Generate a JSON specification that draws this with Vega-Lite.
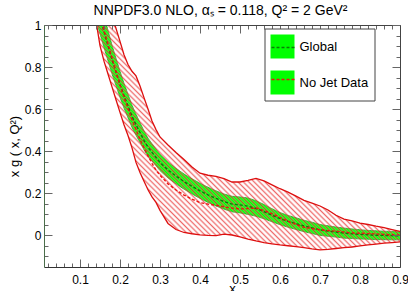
{
"$schema": "https://vega.github.io/schema/vega-lite/v6.json",
"width": 356, "height": 242,
"autosize": {"type": "none"},
"padding": {"left": 44, "top": 25, "right": 8, "bottom": 24},
"background": "white",
"config": {"view": {"stroke": null}, "font": "Liberation Sans"},
"data": {"values": [
{"s":"Global","x":0.14,"lo":1.025,"c":1.105,"hi":1.185},
{"s":"Global","x":0.15,"lo":0.959,"c":1.037,"hi":1.115},
{"s":"Global","x":0.16,"lo":0.893,"c":0.969,"hi":1.045},
{"s":"Global","x":0.17,"lo":0.83,"c":0.902,"hi":0.974},
{"s":"Global","x":0.18,"lo":0.768,"c":0.836,"hi":0.904},
{"s":"Global","x":0.19,"lo":0.712,"c":0.777,"hi":0.842},
{"s":"Global","x":0.2,"lo":0.656,"c":0.718,"hi":0.78},
{"s":"Global","x":0.21,"lo":0.605,"c":0.664,"hi":0.723},
{"s":"Global","x":0.22,"lo":0.559,"c":0.615,"hi":0.671},
{"s":"Global","x":0.23,"lo":0.513,"c":0.566,"hi":0.619},
{"s":"Global","x":0.24,"lo":0.476,"c":0.526,"hi":0.576},
{"s":"Global","x":0.25,"lo":0.442,"c":0.489,"hi":0.536},
{"s":"Global","x":0.26,"lo":0.407,"c":0.452,"hi":0.497},
{"s":"Global","x":0.27,"lo":0.376,"c":0.419,"hi":0.462},
{"s":"Global","x":0.28,"lo":0.354,"c":0.395,"hi":0.436},
{"s":"Global","x":0.29,"lo":0.331,"c":0.371,"hi":0.411},
{"s":"Global","x":0.3,"lo":0.308,"c":0.347,"hi":0.386},
{"s":"Global","x":0.32,"lo":0.273,"c":0.311,"hi":0.349},
{"s":"Global","x":0.34,"lo":0.245,"c":0.282,"hi":0.319},
{"s":"Global","x":0.36,"lo":0.22,"c":0.256,"hi":0.292},
{"s":"Global","x":0.38,"lo":0.197,"c":0.233,"hi":0.269},
{"s":"Global","x":0.4,"lo":0.176,"c":0.212,"hi":0.248},
{"s":"Global","x":0.42,"lo":0.157,"c":0.193,"hi":0.229},
{"s":"Global","x":0.44,"lo":0.14,"c":0.176,"hi":0.212},
{"s":"Global","x":0.46,"lo":0.125,"c":0.161,"hi":0.197},
{"s":"Global","x":0.48,"lo":0.112,"c":0.149,"hi":0.186},
{"s":"Global","x":0.5,"lo":0.107,"c":0.145,"hi":0.183},
{"s":"Global","x":0.52,"lo":0.1,"c":0.139,"hi":0.178},
{"s":"Global","x":0.54,"lo":0.091,"c":0.128,"hi":0.165},
{"s":"Global","x":0.56,"lo":0.079,"c":0.113,"hi":0.147},
{"s":"Global","x":0.58,"lo":0.065,"c":0.096,"hi":0.127},
{"s":"Global","x":0.6,"lo":0.051,"c":0.08,"hi":0.109},
{"s":"Global","x":0.62,"lo":0.039,"c":0.067,"hi":0.095},
{"s":"Global","x":0.64,"lo":0.028,"c":0.056,"hi":0.084},
{"s":"Global","x":0.66,"lo":0.018,"c":0.045,"hi":0.072},
{"s":"Global","x":0.68,"lo":0.009,"c":0.036,"hi":0.063},
{"s":"Global","x":0.7,"lo":0.0,"c":0.026,"hi":0.052},
{"s":"Global","x":0.72,"lo":-0.004,"c":0.021,"hi":0.046},
{"s":"Global","x":0.74,"lo":-0.008,"c":0.016,"hi":0.04},
{"s":"Global","x":0.76,"lo":-0.013,"c":0.011,"hi":0.035},
{"s":"Global","x":0.78,"lo":-0.015,"c":0.008,"hi":0.031},
{"s":"Global","x":0.8,"lo":-0.017,"c":0.005,"hi":0.027},
{"s":"Global","x":0.82,"lo":-0.018,"c":0.003,"hi":0.024},
{"s":"Global","x":0.84,"lo":-0.02,"c":0.001,"hi":0.022},
{"s":"Global","x":0.86,"lo":-0.02,"c":0.0,"hi":0.02},
{"s":"Global","x":0.88,"lo":-0.021,"c":-0.001,"hi":0.019},
{"s":"Global","x":0.9,"lo":-0.021,"c":-0.002,"hi":0.017},
{"s":"No Jet Data","x":0.14,"lo":1.02,"c":1.105,"hi":1.2},
{"s":"No Jet Data","x":0.15,"lo":0.902,"c":1.04,"hi":1.2},
{"s":"No Jet Data","x":0.16,"lo":0.828,"c":0.974,"hi":1.17},
{"s":"No Jet Data","x":0.17,"lo":0.767,"c":0.908,"hi":1.11},
{"s":"No Jet Data","x":0.18,"lo":0.706,"c":0.843,"hi":1.047},
{"s":"No Jet Data","x":0.19,"lo":0.645,"c":0.779,"hi":0.984},
{"s":"No Jet Data","x":0.2,"lo":0.585,"c":0.714,"hi":0.922},
{"s":"No Jet Data","x":0.21,"lo":0.526,"c":0.656,"hi":0.859},
{"s":"No Jet Data","x":0.22,"lo":0.475,"c":0.603,"hi":0.812},
{"s":"No Jet Data","x":0.23,"lo":0.416,"c":0.55,"hi":0.78},
{"s":"No Jet Data","x":0.24,"lo":0.347,"c":0.503,"hi":0.758},
{"s":"No Jet Data","x":0.25,"lo":0.299,"c":0.455,"hi":0.71},
{"s":"No Jet Data","x":0.26,"lo":0.257,"c":0.417,"hi":0.655},
{"s":"No Jet Data","x":0.27,"lo":0.217,"c":0.379,"hi":0.601},
{"s":"No Jet Data","x":0.28,"lo":0.183,"c":0.343,"hi":0.544},
{"s":"No Jet Data","x":0.29,"lo":0.157,"c":0.31,"hi":0.503},
{"s":"No Jet Data","x":0.3,"lo":0.119,"c":0.286,"hi":0.468},
{"s":"No Jet Data","x":0.32,"lo":0.057,"c":0.245,"hi":0.43},
{"s":"No Jet Data","x":0.34,"lo":0.028,"c":0.216,"hi":0.394},
{"s":"No Jet Data","x":0.36,"lo":0.014,"c":0.192,"hi":0.361},
{"s":"No Jet Data","x":0.38,"lo":0.008,"c":0.172,"hi":0.325},
{"s":"No Jet Data","x":0.4,"lo":0.003,"c":0.156,"hi":0.296},
{"s":"No Jet Data","x":0.42,"lo":0.0,"c":0.149,"hi":0.286},
{"s":"No Jet Data","x":0.44,"lo":-0.001,"c":0.143,"hi":0.281},
{"s":"No Jet Data","x":0.46,"lo":0.006,"c":0.136,"hi":0.27},
{"s":"No Jet Data","x":0.48,"lo":0.002,"c":0.13,"hi":0.254},
{"s":"No Jet Data","x":0.5,"lo":-0.007,"c":0.126,"hi":0.254},
{"s":"No Jet Data","x":0.52,"lo":-0.017,"c":0.128,"hi":0.262},
{"s":"No Jet Data","x":0.54,"lo":-0.026,"c":0.13,"hi":0.271},
{"s":"No Jet Data","x":0.56,"lo":-0.034,"c":0.118,"hi":0.259},
{"s":"No Jet Data","x":0.58,"lo":-0.04,"c":0.103,"hi":0.24},
{"s":"No Jet Data","x":0.6,"lo":-0.045,"c":0.085,"hi":0.222},
{"s":"No Jet Data","x":0.62,"lo":-0.049,"c":0.068,"hi":0.206},
{"s":"No Jet Data","x":0.64,"lo":-0.053,"c":0.052,"hi":0.187},
{"s":"No Jet Data","x":0.66,"lo":-0.058,"c":0.039,"hi":0.167},
{"s":"No Jet Data","x":0.68,"lo":-0.064,"c":0.033,"hi":0.154},
{"s":"No Jet Data","x":0.7,"lo":-0.069,"c":0.027,"hi":0.14},
{"s":"No Jet Data","x":0.72,"lo":-0.066,"c":0.023,"hi":0.121},
{"s":"No Jet Data","x":0.74,"lo":-0.062,"c":0.02,"hi":0.096},
{"s":"No Jet Data","x":0.76,"lo":-0.058,"c":0.016,"hi":0.078},
{"s":"No Jet Data","x":0.78,"lo":-0.055,"c":0.012,"hi":0.069},
{"s":"No Jet Data","x":0.8,"lo":-0.05,"c":0.0105,"hi":0.059},
{"s":"No Jet Data","x":0.82,"lo":-0.045,"c":0.0087,"hi":0.052},
{"s":"No Jet Data","x":0.84,"lo":-0.041,"c":0.0069,"hi":0.044},
{"s":"No Jet Data","x":0.86,"lo":-0.037,"c":0.0051,"hi":0.037},
{"s":"No Jet Data","x":0.88,"lo":-0.034,"c":0.0033,"hi":0.028},
{"s":"No Jet Data","x":0.9,"lo":-0.031,"c":0.0016,"hi":0.019}
]},
"resolve": {"axis": {"x": "independent", "y": "independent"}},
"layer": [
{
 "transform": [{"filter": "datum.s === 'Global'"}],
 "mark": {"type": "area", "clip": true, "fill": "#00ff00"},
 "encoding": {
  "x": {"field": "x", "type": "quantitative", "scale": {"domain": [0.01, 0.9], "nice": false, "zero": false},
   "axis": {"orient": "bottom", "values": [0.02,0.04,0.06,0.08,0.1,0.12,0.14,0.16,0.18,0.2,0.22,0.24,0.26,0.28,0.3,0.32,0.34,0.36,0.38,0.4,0.42,0.44,0.46,0.48,0.5,0.52,0.54,0.56,0.58,0.6,0.62,0.64,0.66,0.68,0.7,0.72,0.74,0.76,0.78,0.8,0.82,0.84,0.86,0.88,0.9],
    "format": ".1f",
    "labelExpr": "abs(datum.value*10 - round(datum.value*10)) < 0.001 ? datum.label : ''",
    "tickSize": {"condition": {"test": "abs(datum.value*10 - round(datum.value*10)) < 0.001", "value": -8}, "value": -4},
    "tickColor": "#666", "tickWidth": 1, "domainColor": "#333", "domainWidth": 1,
    "labelPadding": 15, "labelFont": "Liberation Sans", "labelFontSize": 12, "labelColor": "#000", "labelFlush": false, "labelOverlap": false,
    "grid": false, "title": "x", "titleFont": "Liberation Sans", "titleFontSize": 13, "titleFontWeight": "normal", "titleColor": "#000", "titleX": 188, "titleY": 25, "titleBaseline": "alphabetic", "zindex": 1}},
  "y": {"field": "lo", "type": "quantitative", "scale": {"domain": [-0.15, 1], "nice": false, "zero": false},
   "axis": {"orient": "left", "values": [-0.1,-0.05,0,0.05,0.1,0.15,0.2,0.25,0.3,0.35,0.4,0.45,0.5,0.55,0.6,0.65,0.7,0.75,0.8,0.85,0.9,0.95,1],
    "format": "~g",
    "labelExpr": "abs(datum.value*5 - round(datum.value*5)) < 0.001 ? datum.label : ''",
    "tickSize": {"condition": {"test": "abs(datum.value*5 - round(datum.value*5)) < 0.001", "value": -8}, "value": -4},
    "tickColor": "#666", "tickWidth": 1, "domainColor": "#4b6e4b", "domainWidth": 1,
    "labelPadding": 11, "labelFont": "Liberation Sans", "labelFontSize": 12, "labelColor": "#000", "labelFlush": false, "labelOverlap": false,
    "grid": false, "title": "x g ( x, Q²)", "titleFont": "Liberation Sans", "titleFontSize": 13, "titleFontWeight": "normal", "titleColor": "#000", "titleX": -26, "titleAngle": -90, "titleBaseline": "alphabetic", "zindex": 1}},
  "y2": {"field": "hi"},
  "opacity": {"field": "s", "type": "nominal", "scale": {"domain": ["Global", "No Jet Data"], "range": [1, 1]},
   "legend": {"orient": "none", "legendX": 220.5, "legendY": 3.5, "padding": 6, "rowPadding": 12, "title": null,
    "symbolType": "square", "symbolSize": 576, "symbolStrokeWidth": 0,
    "labelFont": "Liberation Sans", "labelFontSize": 13, "labelColor": "#000", "labelOffset": 5,
    "strokeColor": "#444", "fillColor": "#ffffff", "zindex": 1}}
 }
},
{
 "transform": [{"filter": "datum.s === 'Global'"}],
 "mark": {"type": "line", "clip": true, "color": "#14a014", "strokeWidth": 0.8},
 "encoding": {
  "x": {"field": "x", "type": "quantitative", "scale": {"domain": [0.01, 0.9], "nice": false, "zero": false},
   "axis": {"orient": "top", "values": [0.02,0.04,0.06,0.08,0.1,0.12,0.14,0.16,0.18,0.2,0.22,0.24,0.26,0.28,0.3,0.32,0.34,0.36,0.38,0.4,0.42,0.44,0.46,0.48,0.5,0.52,0.54,0.56,0.58,0.6,0.62,0.64,0.66,0.68,0.7,0.72,0.74,0.76,0.78,0.8,0.82,0.84,0.86,0.88,0.9],
    "labels": false, "tickSize": {"condition": {"test": "abs(datum.value*10 - round(datum.value*10)) < 0.001", "value": -8}, "value": -4},
    "tickColor": "#666", "tickWidth": 1, "domainColor": "#444", "domainWidth": 1, "grid": false,
    "title": "NNPDF3.0 NLO, αₛ = 0.118, Q² = 2 GeV²", "titleFont": "Liberation Sans", "titleFontSize": 14, "titleFontWeight": "normal", "titleColor": "#000",
    "titleX": 176, "titleY": -11, "titleAlign": "center", "titleBaseline": "alphabetic", "titleAngle": 0, "zindex": 1}},
  "y": {"field": "lo", "type": "quantitative", "scale": {"domain": [-0.15, 1], "nice": false, "zero": false},
   "axis": {"orient": "right", "values": [-0.1,-0.05,0,0.05,0.1,0.15,0.2,0.25,0.3,0.35,0.4,0.45,0.5,0.55,0.6,0.65,0.7,0.75,0.8,0.85,0.9,0.95,1],
    "labels": false, "tickSize": {"condition": {"test": "abs(datum.value*5 - round(datum.value*5)) < 0.001", "value": -8}, "value": -4},
    "tickColor": "#666", "tickWidth": 1, "domainColor": "#444", "domainWidth": 1, "grid": false, "title": null, "zindex": 1}}
 }
},
{
 "transform": [{"filter": "datum.s === 'Global'"}],
 "mark": {"type": "line", "clip": true, "color": "#14a014", "strokeWidth": 0.8},
 "encoding": {
  "x": {"field": "x", "type": "quantitative", "axis": null},
  "y": {"field": "hi", "type": "quantitative", "axis": null}
 }
},
{
 "transform": [{"filter": "datum.s === 'No Jet Data'"}],
 "mark": {"type": "area", "clip": true, "fill": {"gradient": "linear", "x1": 0, "y1": 0.88, "x2": 1, "y2": 0, "stops": [
{"offset":0,"color":"rgba(230,40,40,0.7)"},{"offset":0.005,"color":"rgba(255,255,255,0)"},{"offset":0.01,"color":"rgba(230,40,40,0.7)"},{"offset":0.015,"color":"rgba(255,255,255,0)"},{"offset":0.02,"color":"rgba(230,40,40,0.7)"},{"offset":0.025,"color":"rgba(255,255,255,0)"},{"offset":0.03,"color":"rgba(230,40,40,0.7)"},{"offset":0.035,"color":"rgba(255,255,255,0)"},{"offset":0.04,"color":"rgba(230,40,40,0.7)"},{"offset":0.045,"color":"rgba(255,255,255,0)"},
{"offset":0.05,"color":"rgba(230,40,40,0.7)"},{"offset":0.055,"color":"rgba(255,255,255,0)"},{"offset":0.06,"color":"rgba(230,40,40,0.7)"},{"offset":0.065,"color":"rgba(255,255,255,0)"},{"offset":0.07,"color":"rgba(230,40,40,0.7)"},{"offset":0.075,"color":"rgba(255,255,255,0)"},{"offset":0.08,"color":"rgba(230,40,40,0.7)"},{"offset":0.085,"color":"rgba(255,255,255,0)"},{"offset":0.09,"color":"rgba(230,40,40,0.7)"},{"offset":0.095,"color":"rgba(255,255,255,0)"},
{"offset":0.1,"color":"rgba(230,40,40,0.7)"},{"offset":0.105,"color":"rgba(255,255,255,0)"},{"offset":0.11,"color":"rgba(230,40,40,0.7)"},{"offset":0.115,"color":"rgba(255,255,255,0)"},{"offset":0.12,"color":"rgba(230,40,40,0.7)"},{"offset":0.125,"color":"rgba(255,255,255,0)"},{"offset":0.13,"color":"rgba(230,40,40,0.7)"},{"offset":0.135,"color":"rgba(255,255,255,0)"},{"offset":0.14,"color":"rgba(230,40,40,0.7)"},{"offset":0.145,"color":"rgba(255,255,255,0)"},
{"offset":0.15,"color":"rgba(230,40,40,0.7)"},{"offset":0.155,"color":"rgba(255,255,255,0)"},{"offset":0.16,"color":"rgba(230,40,40,0.7)"},{"offset":0.165,"color":"rgba(255,255,255,0)"},{"offset":0.17,"color":"rgba(230,40,40,0.7)"},{"offset":0.175,"color":"rgba(255,255,255,0)"},{"offset":0.18,"color":"rgba(230,40,40,0.7)"},{"offset":0.185,"color":"rgba(255,255,255,0)"},{"offset":0.19,"color":"rgba(230,40,40,0.7)"},{"offset":0.195,"color":"rgba(255,255,255,0)"},
{"offset":0.2,"color":"rgba(230,40,40,0.7)"},{"offset":0.205,"color":"rgba(255,255,255,0)"},{"offset":0.21,"color":"rgba(230,40,40,0.7)"},{"offset":0.215,"color":"rgba(255,255,255,0)"},{"offset":0.22,"color":"rgba(230,40,40,0.7)"},{"offset":0.225,"color":"rgba(255,255,255,0)"},{"offset":0.23,"color":"rgba(230,40,40,0.7)"},{"offset":0.235,"color":"rgba(255,255,255,0)"},{"offset":0.24,"color":"rgba(230,40,40,0.7)"},{"offset":0.245,"color":"rgba(255,255,255,0)"},
{"offset":0.25,"color":"rgba(230,40,40,0.7)"},{"offset":0.255,"color":"rgba(255,255,255,0)"},{"offset":0.26,"color":"rgba(230,40,40,0.7)"},{"offset":0.265,"color":"rgba(255,255,255,0)"},{"offset":0.27,"color":"rgba(230,40,40,0.7)"},{"offset":0.275,"color":"rgba(255,255,255,0)"},{"offset":0.28,"color":"rgba(230,40,40,0.7)"},{"offset":0.285,"color":"rgba(255,255,255,0)"},{"offset":0.29,"color":"rgba(230,40,40,0.7)"},{"offset":0.295,"color":"rgba(255,255,255,0)"},
{"offset":0.3,"color":"rgba(230,40,40,0.7)"},{"offset":0.305,"color":"rgba(255,255,255,0)"},{"offset":0.31,"color":"rgba(230,40,40,0.7)"},{"offset":0.315,"color":"rgba(255,255,255,0)"},{"offset":0.32,"color":"rgba(230,40,40,0.7)"},{"offset":0.325,"color":"rgba(255,255,255,0)"},{"offset":0.33,"color":"rgba(230,40,40,0.7)"},{"offset":0.335,"color":"rgba(255,255,255,0)"},{"offset":0.34,"color":"rgba(230,40,40,0.7)"},{"offset":0.345,"color":"rgba(255,255,255,0)"},
{"offset":0.35,"color":"rgba(230,40,40,0.7)"},{"offset":0.355,"color":"rgba(255,255,255,0)"},{"offset":0.36,"color":"rgba(230,40,40,0.7)"},{"offset":0.365,"color":"rgba(255,255,255,0)"},{"offset":0.37,"color":"rgba(230,40,40,0.7)"},{"offset":0.375,"color":"rgba(255,255,255,0)"},{"offset":0.38,"color":"rgba(230,40,40,0.7)"},{"offset":0.385,"color":"rgba(255,255,255,0)"},{"offset":0.39,"color":"rgba(230,40,40,0.7)"},{"offset":0.395,"color":"rgba(255,255,255,0)"},
{"offset":0.4,"color":"rgba(230,40,40,0.7)"},{"offset":0.405,"color":"rgba(255,255,255,0)"},{"offset":0.41,"color":"rgba(230,40,40,0.7)"},{"offset":0.415,"color":"rgba(255,255,255,0)"},{"offset":0.42,"color":"rgba(230,40,40,0.7)"},{"offset":0.425,"color":"rgba(255,255,255,0)"},{"offset":0.43,"color":"rgba(230,40,40,0.7)"},{"offset":0.435,"color":"rgba(255,255,255,0)"},{"offset":0.44,"color":"rgba(230,40,40,0.7)"},{"offset":0.445,"color":"rgba(255,255,255,0)"},
{"offset":0.45,"color":"rgba(230,40,40,0.7)"},{"offset":0.455,"color":"rgba(255,255,255,0)"},{"offset":0.46,"color":"rgba(230,40,40,0.7)"},{"offset":0.465,"color":"rgba(255,255,255,0)"},{"offset":0.47,"color":"rgba(230,40,40,0.7)"},{"offset":0.475,"color":"rgba(255,255,255,0)"},{"offset":0.48,"color":"rgba(230,40,40,0.7)"},{"offset":0.485,"color":"rgba(255,255,255,0)"},{"offset":0.49,"color":"rgba(230,40,40,0.7)"},{"offset":0.495,"color":"rgba(255,255,255,0)"},
{"offset":0.5,"color":"rgba(230,40,40,0.7)"},{"offset":0.505,"color":"rgba(255,255,255,0)"},{"offset":0.51,"color":"rgba(230,40,40,0.7)"},{"offset":0.515,"color":"rgba(255,255,255,0)"},{"offset":0.52,"color":"rgba(230,40,40,0.7)"},{"offset":0.525,"color":"rgba(255,255,255,0)"},{"offset":0.53,"color":"rgba(230,40,40,0.7)"},{"offset":0.535,"color":"rgba(255,255,255,0)"},{"offset":0.54,"color":"rgba(230,40,40,0.7)"},{"offset":0.545,"color":"rgba(255,255,255,0)"},
{"offset":0.55,"color":"rgba(230,40,40,0.7)"},{"offset":0.555,"color":"rgba(255,255,255,0)"},{"offset":0.56,"color":"rgba(230,40,40,0.7)"},{"offset":0.565,"color":"rgba(255,255,255,0)"},{"offset":0.57,"color":"rgba(230,40,40,0.7)"},{"offset":0.575,"color":"rgba(255,255,255,0)"},{"offset":0.58,"color":"rgba(230,40,40,0.7)"},{"offset":0.585,"color":"rgba(255,255,255,0)"},{"offset":0.59,"color":"rgba(230,40,40,0.7)"},{"offset":0.595,"color":"rgba(255,255,255,0)"},
{"offset":0.6,"color":"rgba(230,40,40,0.7)"},{"offset":0.605,"color":"rgba(255,255,255,0)"},{"offset":0.61,"color":"rgba(230,40,40,0.7)"},{"offset":0.615,"color":"rgba(255,255,255,0)"},{"offset":0.62,"color":"rgba(230,40,40,0.7)"},{"offset":0.625,"color":"rgba(255,255,255,0)"},{"offset":0.63,"color":"rgba(230,40,40,0.7)"},{"offset":0.635,"color":"rgba(255,255,255,0)"},{"offset":0.64,"color":"rgba(230,40,40,0.7)"},{"offset":0.645,"color":"rgba(255,255,255,0)"},
{"offset":0.65,"color":"rgba(230,40,40,0.7)"},{"offset":0.655,"color":"rgba(255,255,255,0)"},{"offset":0.66,"color":"rgba(230,40,40,0.7)"},{"offset":0.665,"color":"rgba(255,255,255,0)"},{"offset":0.67,"color":"rgba(230,40,40,0.7)"},{"offset":0.675,"color":"rgba(255,255,255,0)"},{"offset":0.68,"color":"rgba(230,40,40,0.7)"},{"offset":0.685,"color":"rgba(255,255,255,0)"},{"offset":0.69,"color":"rgba(230,40,40,0.7)"},{"offset":0.695,"color":"rgba(255,255,255,0)"},
{"offset":0.7,"color":"rgba(230,40,40,0.7)"},{"offset":0.705,"color":"rgba(255,255,255,0)"},{"offset":0.71,"color":"rgba(230,40,40,0.7)"},{"offset":0.715,"color":"rgba(255,255,255,0)"},{"offset":0.72,"color":"rgba(230,40,40,0.7)"},{"offset":0.725,"color":"rgba(255,255,255,0)"},{"offset":0.73,"color":"rgba(230,40,40,0.7)"},{"offset":0.735,"color":"rgba(255,255,255,0)"},{"offset":0.74,"color":"rgba(230,40,40,0.7)"},{"offset":0.745,"color":"rgba(255,255,255,0)"},
{"offset":0.75,"color":"rgba(230,40,40,0.7)"},{"offset":0.755,"color":"rgba(255,255,255,0)"},{"offset":0.76,"color":"rgba(230,40,40,0.7)"},{"offset":0.765,"color":"rgba(255,255,255,0)"},{"offset":0.77,"color":"rgba(230,40,40,0.7)"},{"offset":0.775,"color":"rgba(255,255,255,0)"},{"offset":0.78,"color":"rgba(230,40,40,0.7)"},{"offset":0.785,"color":"rgba(255,255,255,0)"},{"offset":0.79,"color":"rgba(230,40,40,0.7)"},{"offset":0.795,"color":"rgba(255,255,255,0)"},
{"offset":0.8,"color":"rgba(230,40,40,0.7)"},{"offset":0.805,"color":"rgba(255,255,255,0)"},{"offset":0.81,"color":"rgba(230,40,40,0.7)"},{"offset":0.815,"color":"rgba(255,255,255,0)"},{"offset":0.82,"color":"rgba(230,40,40,0.7)"},{"offset":0.825,"color":"rgba(255,255,255,0)"},{"offset":0.83,"color":"rgba(230,40,40,0.7)"},{"offset":0.835,"color":"rgba(255,255,255,0)"},{"offset":0.84,"color":"rgba(230,40,40,0.7)"},{"offset":0.845,"color":"rgba(255,255,255,0)"},
{"offset":0.85,"color":"rgba(230,40,40,0.7)"},{"offset":0.855,"color":"rgba(255,255,255,0)"},{"offset":0.86,"color":"rgba(230,40,40,0.7)"},{"offset":0.865,"color":"rgba(255,255,255,0)"},{"offset":0.87,"color":"rgba(230,40,40,0.7)"},{"offset":0.875,"color":"rgba(255,255,255,0)"},{"offset":0.88,"color":"rgba(230,40,40,0.7)"},{"offset":0.885,"color":"rgba(255,255,255,0)"},{"offset":0.89,"color":"rgba(230,40,40,0.7)"},{"offset":0.895,"color":"rgba(255,255,255,0)"},
{"offset":0.9,"color":"rgba(230,40,40,0.7)"},{"offset":0.905,"color":"rgba(255,255,255,0)"},{"offset":0.91,"color":"rgba(230,40,40,0.7)"},{"offset":0.915,"color":"rgba(255,255,255,0)"},{"offset":0.92,"color":"rgba(230,40,40,0.7)"},{"offset":0.925,"color":"rgba(255,255,255,0)"},{"offset":0.93,"color":"rgba(230,40,40,0.7)"},{"offset":0.935,"color":"rgba(255,255,255,0)"},{"offset":0.94,"color":"rgba(230,40,40,0.7)"},{"offset":0.945,"color":"rgba(255,255,255,0)"},
{"offset":0.95,"color":"rgba(230,40,40,0.7)"},{"offset":0.955,"color":"rgba(255,255,255,0)"},{"offset":0.96,"color":"rgba(230,40,40,0.7)"},{"offset":0.965,"color":"rgba(255,255,255,0)"},{"offset":0.97,"color":"rgba(230,40,40,0.7)"},{"offset":0.975,"color":"rgba(255,255,255,0)"},{"offset":0.98,"color":"rgba(230,40,40,0.7)"},{"offset":0.985,"color":"rgba(255,255,255,0)"},{"offset":0.99,"color":"rgba(230,40,40,0.7)"},{"offset":0.995,"color":"rgba(255,255,255,0)"},
{"offset":1,"color":"rgba(230,40,40,0.7)"}
 ]}},
 "encoding": {
  "x": {"field": "x", "type": "quantitative", "axis": null},
  "y": {"field": "lo", "type": "quantitative", "axis": null},
  "y2": {"field": "hi"}
 }
},
{
 "mark": {"type": "line", "clip": true, "strokeDash": [3, 2], "strokeWidth": 1.4},
 "encoding": {
  "x": {"field": "x", "type": "quantitative", "axis": null},
  "y": {"field": "c", "type": "quantitative", "axis": null},
  "stroke": {"field": "s", "type": "nominal", "scale": {"range": ["#0a7a0a", "#ee1111"]},
   "legend": {"orient": "none", "legendX": 220.5, "legendY": 3.5, "title": null, "padding": 6, "rowPadding": 12,
    "symbolType": "stroke", "symbolSize": 576, "symbolStrokeWidth": 1.5, "symbolDash": [3, 2],
    "labelFontSize": 13, "labelExpr": "''", "zindex": 2}}
 }
},
{
 "transform": [{"filter": "datum.s === 'No Jet Data'"}],
 "mark": {"type": "line", "clip": true, "color": "#dd0f0f", "strokeWidth": 1.3},
 "encoding": {
  "x": {"field": "x", "type": "quantitative", "axis": null},
  "y": {"field": "lo", "type": "quantitative", "axis": null}
 }
},
{
 "transform": [{"filter": "datum.s === 'No Jet Data'"}],
 "mark": {"type": "line", "clip": true, "color": "#dd0f0f", "strokeWidth": 1.3},
 "encoding": {
  "x": {"field": "x", "type": "quantitative", "axis": null},
  "y": {"field": "hi", "type": "quantitative", "axis": null}
 }
}
]
}
